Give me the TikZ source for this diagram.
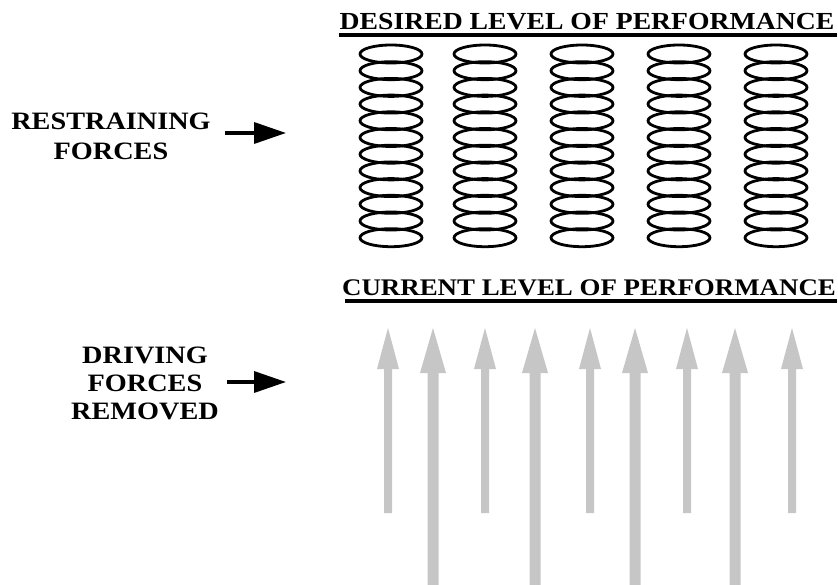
\documentclass[tikz,border=0pt]{standalone}
\usepackage{fontspec}
\setmainfont{Liberation Serif}[FakeStretch=1.13]
\usepackage{tikz}
\usetikzlibrary{arrows.meta}

\tikzset{
  coil/.style={line width=2.8pt},
  pushup/.style={fill=gray!45, draw=none},
  sidelabel/.style={align=center, font=\fontsize{25}{30}\selectfont\bfseries, inner sep=0pt},
  levellabel/.style={font=\fontsize{24.5}{26}\selectfont\bfseries, inner sep=0pt, anchor=base},
  levelline/.style={line width=3.5pt},
  pointer/.style={line width=3.5pt, -{Triangle[length=32pt,width=21pt]}}
}

\begin{document}
\begin{tikzpicture}[x=1pt, y=-1pt]
      \useasboundingbox (0,0) rectangle (838,585);

      % levels
      \node[levellabel] (desired) at (587,30) {DESIRED LEVEL OF PERFORMANCE};
      \draw[levelline] (339,35) -- (837,35);
      \node[levellabel, font=\fontsize{23.8}{26}\selectfont\bfseries] (current) at (589,296) {CURRENT LEVEL OF PERFORMANCE};
      \draw[levelline] (345,301) -- (837,301);

      % restraining forces as springs
      \foreach \x in {391,485,582,679,776}
        \foreach \i in {0,...,11}
          \draw[coil] (\x,{54+16.7*\i}) ellipse (31pt and 9pt);

      % driving forces, short and long
      \foreach \x in {388,485,590,687,792}
        \fill[pushup] (\x,328) -- (\x+11,369) -- (\x+4,369) -- (\x+4,513)
          -- (\x-4,513) -- (\x-4,369) -- (\x-11,369) -- cycle;
      \foreach \x in {433,535,635,735}
        \fill[pushup] (\x,328) -- (\x+13,373) -- (\x+5.5,373) -- (\x+5.5,585)
          -- (\x-5.5,585) -- (\x-5.5,373) -- (\x-13,373) -- cycle;

      % side labels
      \node[sidelabel] (restrain) at (111,136) {RESTRAINING\\FORCES};
      \coordinate (restrainTip) at (286,133);
      \draw[pointer] (restrain.east) ++(14,-3) -- (restrainTip);
      \node[sidelabel, font=\fontsize{25}{28}\selectfont\bfseries] (driving) at (145,383) {DRIVING\\FORCES\\REMOVED};
      \coordinate (drivingTip) at (286,382);
      \draw[pointer] (driving.east) ++(8,-1) -- (drivingTip);
    \end{tikzpicture}
\end{document}
